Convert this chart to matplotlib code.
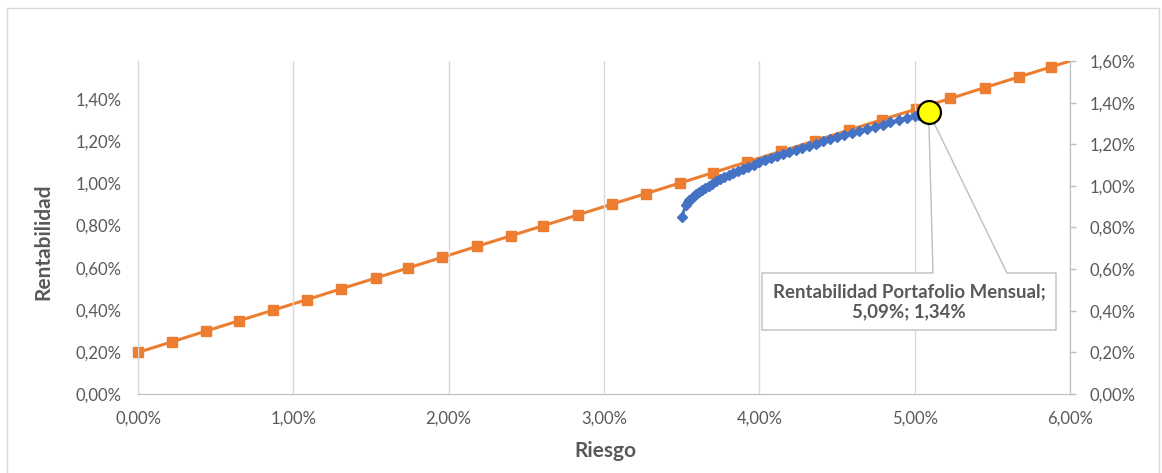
import matplotlib
matplotlib.use("Agg")
from matplotlib import pyplot as plt
from matplotlib.patches import Polygon, Rectangle
from matplotlib.ticker import FuncFormatter, MultipleLocator

# Línea del mercado de capitales (eje secundario), valores en %
cml_riesgo = [0.00, 0.22, 0.44, 0.65, 0.87, 1.09, 1.31, 1.53, 1.74, 1.96,
              2.18, 2.40, 2.61, 2.83, 3.05, 3.27, 3.49, 3.70, 3.92, 4.14,
              4.36, 4.58, 4.79, 5.01, 5.23, 5.45, 5.67, 5.88, 6.10]
cml_rent = [0.200, 0.251, 0.303, 0.352, 0.403, 0.454, 0.506, 0.557, 0.606, 0.657,
            0.709, 0.760, 0.809, 0.860, 0.912, 0.963, 1.014, 1.063, 1.115, 1.166,
            1.217, 1.269, 1.318, 1.369, 1.420, 1.472, 1.523, 1.572, 1.623]

# Frontera eficiente (eje principal), valores en %
frontera_riesgo = [3.500, 3.528, 3.539, 3.550, 3.564, 3.578, 3.595, 3.612, 3.631, 3.652,
                   3.674, 3.697, 3.722, 3.748, 3.775, 3.803, 3.833, 3.864, 3.896, 3.930,
                   3.964, 3.999, 4.036, 4.074, 4.112, 4.152, 4.192, 4.234, 4.276, 4.319,
                   4.363, 4.408, 4.454, 4.500, 4.547, 4.595, 4.644, 4.693, 4.743, 4.793,
                   4.844, 4.896, 4.949, 5.001, 5.028]
frontera_rent = [0.84, 0.90, 0.91, 0.92, 0.93, 0.94, 0.95, 0.96, 0.97, 0.98,
                 0.99, 1.00, 1.01, 1.02, 1.03, 1.04, 1.05, 1.06, 1.07, 1.08,
                 1.09, 1.10, 1.11, 1.12, 1.13, 1.14, 1.15, 1.16, 1.17, 1.18,
                 1.19, 1.20, 1.21, 1.22, 1.23, 1.24, 1.25, 1.26, 1.27, 1.28,
                 1.29, 1.30, 1.31, 1.32, 1.325]

# Portafolio mensual
port_nombre = "Rentabilidad Portafolio Mensual"
port_riesgo = 5.09
port_rent = 1.34

GRIS = "#595959"
NARANJA = "#ED7D31"
AZUL = "#4472C4"

plt.rcParams["font.family"] = ["Lato", "DejaVu Sans"]


def pct(v, pos=None):
    return f"{v:.2f}%".replace(".", ",")


def main():
    fig = plt.figure(figsize=(11.62, 4.73), dpi=100)
    fig.patches.append(Rectangle((7 / 1162, -0.05), 1152 / 1162, 1 - 8 / 473 + 0.05,
                                 transform=fig.transFigure, fill=False,
                                 edgecolor="#d9d9d9", lw=1))

    ax = fig.add_axes([138 / 1162, 79 / 473, 932 / 1162, 333 / 473])
    ax2 = ax.twinx()

    ax.set_xlim(0, 6)
    ax.set_ylim(0, 1.582)
    ax2.set_ylim(0, 1.6)

    ax.xaxis.set_major_locator(MultipleLocator(1))
    ax.yaxis.set_major_locator(MultipleLocator(0.2))
    ax2.yaxis.set_major_locator(MultipleLocator(0.2))
    ax.xaxis.set_major_formatter(FuncFormatter(pct))
    ax.yaxis.set_major_formatter(FuncFormatter(pct))
    ax2.yaxis.set_major_formatter(FuncFormatter(pct))

    ax.grid(axis="x", color="#d9d9d9", lw=1)
    ax.set_axisbelow(True)
    for a in (ax, ax2):
        a.spines["top"].set_visible(False)
        a.spines["left"].set_color("#d9d9d9")
        a.spines["bottom"].set_color("#bfbfbf")
        a.spines["right"].set_color("#bfbfbf")
    ax.tick_params(axis="x", length=0, pad=12, labelsize=12, labelcolor=GRIS)
    ax.tick_params(axis="y", length=0, pad=12, labelsize=12, labelcolor=GRIS)
    ax2.tick_params(axis="y", length=4, width=1, color="#bfbfbf", pad=10,
                    labelsize=12, labelcolor=GRIS)

    ax.set_xlabel("Riesgo", fontsize=15, fontweight="bold", color=GRIS)
    ax.set_ylabel("Rentabilidad", fontsize=15, fontweight="bold", color=GRIS)
    ax.xaxis.set_label_coords(0.502, -0.171)
    ax.yaxis.set_label_coords(-0.102, 0.456)
    ax.xaxis.label.set_va("center")
    ax.yaxis.label.set_va("center")

    # línea naranja recortada en el 6%, marcadores sin recortar
    ax2.plot(cml_riesgo, cml_rent, color=NARANJA, lw=2.2, zorder=3)
    vis = [(x, y) for x, y in zip(cml_riesgo, cml_rent) if x <= 6]
    ax2.plot([p[0] for p in vis], [p[1] for p in vis], ls="none", marker="s",
             ms=6.5, color=NARANJA, clip_on=False, zorder=3)

    ax.plot(frontera_riesgo, frontera_rent, color=AZUL, lw=2.2, marker="D", ms=5,
            zorder=3)

    # llamada con la etiqueta del portafolio
    caja = [(4.017, 0.575), (5.118, 0.575), (port_riesgo, port_rent),
            (5.594, 0.575), (5.910, 0.575), (5.910, 0.304), (4.017, 0.304)]
    ax.add_patch(Polygon(caja, closed=True, facecolor="white", edgecolor="#bfbfbf",
                         lw=1, zorder=4, clip_on=False))
    ax.text(4.964, 0.44, f"{port_nombre};\n{pct(port_riesgo)}; {pct(port_rent)}",
            ha="center", va="center", fontsize=13.4, fontweight="bold", color=GRIS,
            linespacing=1.2, zorder=5)
    ax.plot([port_riesgo], [port_rent], ls="none", marker="o", ms=16.5,
            markerfacecolor="#FFFF00", markeredgecolor="black", markeredgewidth=1.6,
            zorder=6, clip_on=False)

    ax.set_zorder(ax2.get_zorder() + 1)
    ax.patch.set_visible(False)

    fig.savefig("out.png", dpi=100, facecolor="white")


if __name__ == "__main__":
    main()
